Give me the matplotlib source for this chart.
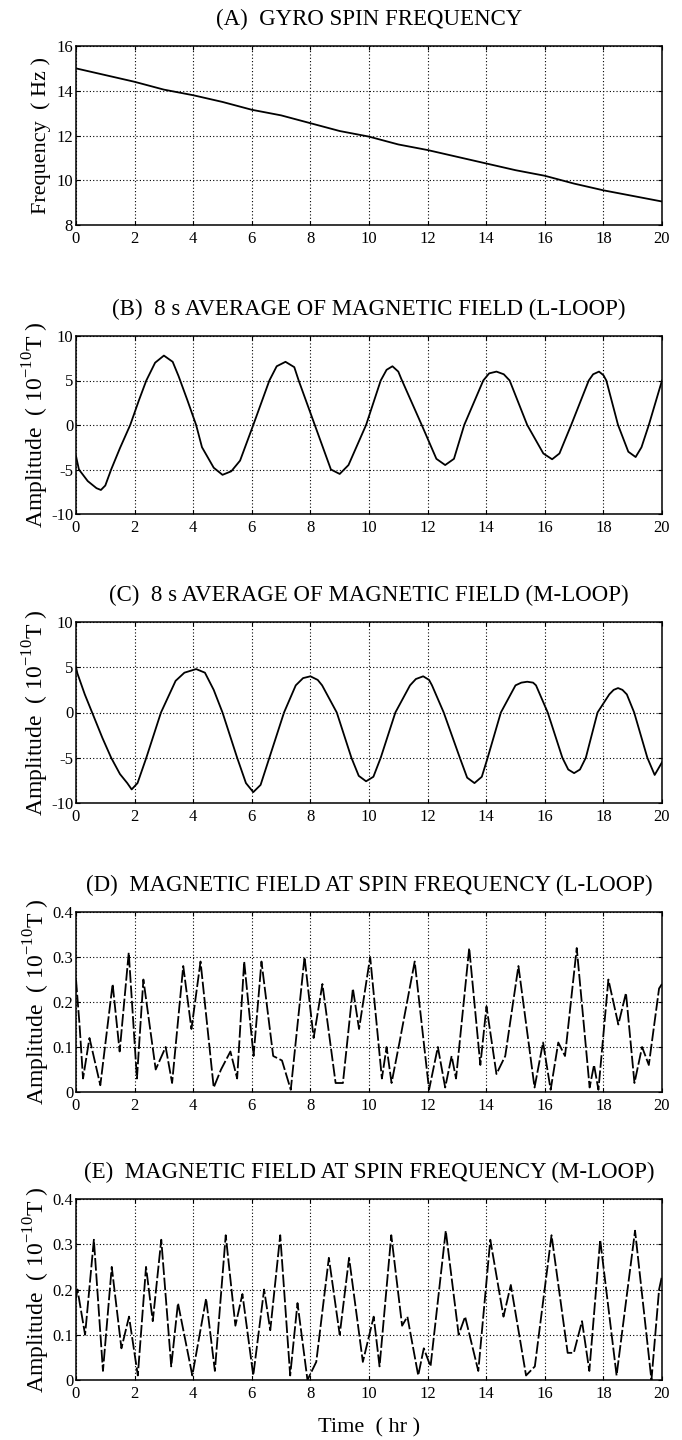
import numpy as np
import matplotlib.pyplot as plt

# (A) gyro spin frequency
a_time = [0, 1, 2, 3, 4, 5, 6, 7, 8, 9, 10, 11, 12, 13, 14, 15, 16, 17, 18, 19, 20]
a_freq = [15.0, 14.7, 14.4, 14.05, 13.8, 13.5, 13.15, 12.9, 12.55, 12.2, 11.95,
          11.6, 11.35, 11.05, 10.75, 10.45, 10.2, 9.85, 9.55, 9.3, 9.05]

# (B) 8 s average, L-loop
b_time = [0, 0.1, 0.4, 0.7, 0.85, 1.0, 1.2, 1.5, 1.85, 2.15, 2.4, 2.7, 3.0, 3.3, 3.5,
          3.8, 4.1, 4.3, 4.7, 5.0, 5.3, 5.6, 6.05, 6.6, 6.85, 7.15, 7.45, 7.6, 8.15,
          8.7, 9.0, 9.3, 9.9, 10.4, 10.6, 10.8, 11.0, 11.1, 11.8, 12.3, 12.6, 12.9,
          13.25, 13.9, 14.1, 14.35, 14.6, 14.8, 15.4, 15.95, 16.25, 16.5, 16.9, 17.5,
          17.65, 17.85, 18.0, 18.1, 18.5, 18.85, 19.1, 19.3, 19.55, 20.0]
b_amp = [-3.5, -5.0, -6.3, -7.1, -7.3, -6.8, -5.0, -2.6, 0.0, 2.8, 5.0, 7.0, 7.8, 7.1, 5.5,
         2.8, 0.0, -2.5, -4.8, -5.6, -5.2, -4.0, 0.0, 5.0, 6.6, 7.1, 6.5, 5.0, 0.0,
         -5.0, -5.5, -4.5, 0.0, 5.0, 6.2, 6.6, 6.0, 5.2, 0.0, -3.8, -4.5, -3.8,
         0.0, 5.0, 5.8, 6.0, 5.7, 5.0, 0.0, -3.2, -3.85, -3.2, 0.0, 5.0,
         5.7, 6.0, 5.6, 5.0, 0.0, -3.0, -3.6, -2.5, 0.0, 5.0]

# (C) 8 s average, M-loop
c_time = [0, 0.05, 0.3, 0.55, 0.9, 1.2, 1.5, 1.75, 1.9, 2.1, 2.4, 2.9, 3.4, 3.7, 4.1, 4.4,
          4.7, 5.0, 5.5, 5.8, 6.05, 6.3, 6.6, 7.1, 7.5, 7.75, 8.0, 8.25, 8.4, 8.9, 9.4,
          9.65, 9.9, 10.15, 10.4, 10.9, 11.4, 11.6, 11.85, 12.05, 12.15, 12.55, 13.1,
          13.35, 13.6, 13.85, 14.05, 14.5, 15.0, 15.2, 15.4, 15.6, 15.7, 16.1, 16.6,
          16.8, 17.0, 17.2, 17.4, 17.8, 18.2, 18.35, 18.5, 18.65, 18.8, 19.05, 19.5,
          19.75, 20.0]
c_amp = [5.0, 4.3, 2.0, 0.0, -2.8, -5.0, -6.8, -7.8, -8.5, -7.8, -5.0, 0.0, 3.5, 4.4, 4.8, 4.4,
         2.5, 0.0, -5.0, -7.8, -8.8, -8.0, -5.0, 0.0, 3.0, 3.8, 4.0, 3.6, 3.0, 0.0, -5.0,
         -7.0, -7.6, -7.1, -5.0, 0.0, 3.0, 3.7, 4.0, 3.6, 3.0, 0.0, -5.0,
         -7.2, -7.8, -7.1, -5.0, 0.0, 3.0, 3.3, 3.4, 3.3, 3.0, 0.0, -5.0,
         -6.3, -6.7, -6.3, -5.0, 0.0, 2.0, 2.5, 2.7, 2.5, 2.0, 0.0, -5.0,
         -6.9, -5.5]

# (D) field at spin frequency, L-loop
d_time = [0, 0.12, 0.24, 0.46, 0.83, 1.25, 1.49, 1.8, 2.08, 2.3, 2.72, 3.06, 3.28, 3.66,
          3.94, 4.25, 4.7, 4.95, 5.27, 5.5, 5.74, 6.06, 6.33, 6.73, 7.03, 7.33, 7.8,
          8.11, 8.41, 8.86, 9.11, 9.45, 9.66, 10.04, 10.44, 10.6, 10.77, 11.04, 11.56,
          12.05, 12.35, 12.6, 12.82, 12.97, 13.42, 13.8, 14.01, 14.35, 14.65, 15.1,
          15.65, 15.94, 16.2, 16.46, 16.69, 17.09, 17.53, 17.68, 17.83, 18.17, 18.51,
          18.77, 19.06, 19.32, 19.55, 19.9, 20.0]
d_amp = [0.25, 0.15, 0.03, 0.12, 0.015, 0.24, 0.09, 0.31, 0.03, 0.25, 0.05, 0.10, 0.02, 0.28,
         0.14, 0.29, 0.01, 0.05, 0.09, 0.03, 0.29, 0.08, 0.29, 0.08, 0.07, 0.005, 0.30,
         0.12, 0.24, 0.02, 0.02, 0.23, 0.14, 0.30, 0.03, 0.10, 0.02, 0.11, 0.29,
         0.005, 0.10, 0.01, 0.08, 0.03, 0.32, 0.06, 0.19, 0.04, 0.08, 0.28,
         0.01, 0.11, 0.005, 0.11, 0.08, 0.32, 0.01, 0.06, 0.005, 0.25, 0.15,
         0.22, 0.02, 0.10, 0.06, 0.23, 0.24]

# (E) field at spin frequency, M-loop
e_time = [0, 0.05, 0.31, 0.61, 0.92, 1.22, 1.55, 1.81, 2.11, 2.39, 2.62, 2.91, 3.25, 3.48,
          3.97, 4.44, 4.74, 5.11, 5.44, 5.68, 6.05, 6.42, 6.63, 6.97, 7.31, 7.56, 7.9,
          8.2, 8.63, 9.0, 9.32, 9.79, 10.16, 10.36, 10.76, 11.13, 11.31, 11.68, 11.87,
          12.1, 12.62, 13.06, 13.28, 13.73, 14.14, 14.59, 14.84, 15.36, 15.66, 16.23,
          16.78, 16.99, 17.27, 17.52, 17.89, 18.45, 19.08, 19.64, 19.9, 20.0]
e_amp = [0.18, 0.20, 0.10, 0.31, 0.02, 0.25, 0.07, 0.14, 0.01, 0.25, 0.13, 0.31, 0.03, 0.17,
         0.01, 0.18, 0.02, 0.32, 0.12, 0.19, 0.01, 0.20, 0.11, 0.32, 0.01, 0.17, 0.0,
         0.04, 0.27, 0.10, 0.27, 0.04, 0.14, 0.03, 0.32, 0.12, 0.14, 0.01, 0.07,
         0.03, 0.33, 0.10, 0.14, 0.02, 0.31, 0.14, 0.21, 0.01, 0.03, 0.32,
         0.06, 0.06, 0.13, 0.02, 0.31, 0.01, 0.33, 0.0, 0.20, 0.23]

titles = [
    "(A)  GYRO SPIN FREQUENCY",
    "(B)  8 s AVERAGE OF MAGNETIC FIELD (L-LOOP)",
    "(C)  8 s AVERAGE OF MAGNETIC FIELD (M-LOOP)",
    "(D)  MAGNETIC FIELD AT SPIN FREQUENCY (L-LOOP)",
    "(E)  MAGNETIC FIELD AT SPIN FREQUENCY (M-LOOP)",
]
amp_label = "Amplitude  ( 10$^{\\mathrm{-10}}$T )"

plt.rcParams["font.family"] = ["Liberation Serif", "DejaVu Serif"]
plt.rcParams["mathtext.fontset"] = "custom"
plt.rcParams["mathtext.rm"] = "Liberation Serif"

fig = plt.figure(figsize=(6.82, 14.4), dpi=100)

# axes boxes in pixels: (top, bottom)
W, H = 682, 1440
left_px, right_px = 76, 662
boxes = [(46, 225), (336, 514), (622, 803), (912, 1092), (1199, 1380)]
axes = []
for top, bot in boxes:
    ax = fig.add_axes([left_px / W, 1 - bot / H, (right_px - left_px) / W, (bot - top) / H])
    axes.append(ax)

series = [
    (a_time, a_freq, "-"),
    (b_time, b_amp, "-"),
    (c_time, c_amp, "-"),
    (d_time, d_amp, (0, (7, 1.5))),
    (e_time, e_amp, (0, (7, 1.5))),
]
ylims = [(8, 16), (-10, 10), (-10, 10), (0, 0.4), (0, 0.4)]
yticks = [[8, 10, 12, 14, 16], [-10, -5, 0, 5, 10], [-10, -5, 0, 5, 10],
          [0, 0.1, 0.2, 0.3, 0.4], [0, 0.1, 0.2, 0.3, 0.4]]
ytick_labels = [["8", "10", "12", "14", "16"], ["-10", "-5", "0", "5", "10"],
                ["-10", "-5", "0", "5", "10"], ["0", "0.1", "0.2", "0.3", "0.4"],
                ["0", "0.1", "0.2", "0.3", "0.4"]]

for i, ax in enumerate(axes):
    t, v, ls = series[i]
    ax.plot(t, v, color="black", lw=1.3, linestyle=ls)
    ax.set_xlim(0, 20)
    ax.set_ylim(*ylims[i])
    ax.set_xticks(range(0, 21, 2))
    ax.set_yticks(yticks[i])
    ax.set_yticklabels(ytick_labels[i])
    ax.grid(True, color="black", linestyle=(0, (1, 2)), linewidth=0.8)
    ax.tick_params(direction="in", length=3, width=0.8, top=True, right=True,
                   labelsize=12, pad=4)
    ax.tick_params(axis="y", pad=2)
    for sp in ax.spines.values():
        sp.set_linewidth(1.1)
    ax.set_title(titles[i], fontsize=16.5, pad=15)
    if i == 0:
        ax.set_ylabel("Frequency  ( Hz )", fontsize=16, labelpad=4)
    else:
        ax.set_ylabel(amp_label, fontsize=17, labelpad=0)

axes[-1].set_xlabel("Time  ( hr )", fontsize=16, labelpad=12)

fig.savefig("out.png", dpi=100)
